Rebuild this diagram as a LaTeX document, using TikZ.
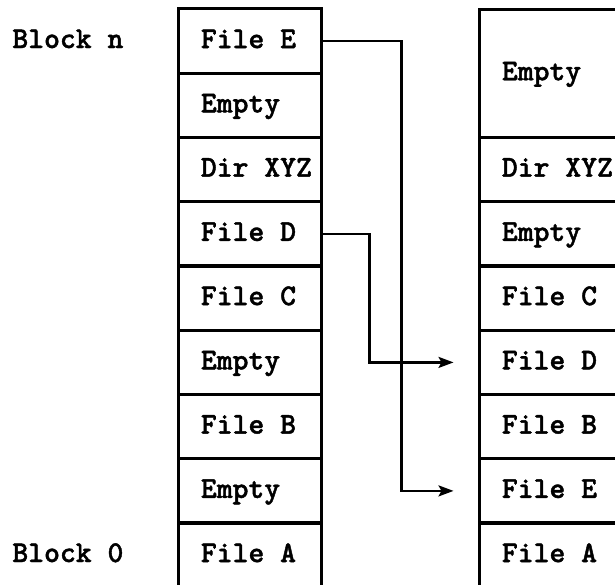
\documentclass[tikz,border=0pt]{standalone}
\usepackage{fontspec}
\usetikzlibrary{arrows.meta,calc}
% Heavy typewriter face (Latin Modern Mono Light, bold weight, emboldened a little more)
\newfontfamily\ttbold{lmmonolt10-bold.otf}[FakeBold=1.4]

% Coordinates are given in pixel-like units: 1 unit = 0.5pt, y grows downward.
\tikzset{
  cell/.style={draw, line width=1.5pt, minimum width=71.5pt, inner sep=0pt},
  row/.style={cell, minimum height=32.125pt},
  tallrow/.style={cell, minimum height=64.25pt},
  txt/.style={anchor=base west, inner sep=0pt, xshift=12pt, yshift=-3.5pt,
              font=\fontsize{15.1}{17}\selectfont\ttbold},
  blocklbl/.style={anchor=base west, inner sep=0pt,
              font=\fontsize{15.1}{17}\selectfont\ttbold},
  conn/.style={line width=1.1pt, -{Stealth[length=7.5pt,width=5.5pt,inset=1.5pt]}}
}

\begin{document}
\begin{tikzpicture}[x=0.5pt, y=-0.5pt]
  \useasboundingbox (0,0) rectangle (615,584);
  \clip (0,0) rectangle (615,584);

  % Left column: blocks n (top) down to 0 (bottom); the bottom cell runs off the page
  \foreach \name/\cy/\lbl in {L8/41.1/File E, L7/105.4/Empty, L6/169.6/Dir XYZ,
      L5/233.9/File D, L4/298.1/File C, L3/362.4/Empty, L2/426.6/File B,
      L1/490.9/Empty, L0/555.1/File A} {
    \node[row] (\name) at (249.5,\cy) {};
    \node[txt] at (\name.west) {\lbl};
  }

  % Right column after compaction; the column runs off the right edge
  \node[tallrow] (R7) at (550.5,73.25) {};
  \node[txt] at (R7.west) {Empty};
  \foreach \name/\cy/\lbl in {R6/169.6/Dir XYZ, R5/233.9/Empty, R4/298.1/File C,
      R3/362.4/File D, R2/426.6/File B, R1/490.9/File E, R0/555.1/File A} {
    \node[row] (\name) at (550.5,\cy) {};
    \node[txt] at (\name.west) {\lbl};
  }

  % Block labels
  \node[blocklbl] (bn) at (12,48) {Block n};
  \node[blocklbl] (b0) at (12,562) {Block 0};

  % Moves of File E and File D
  \draw[conn] (L8.east) -- ++(79,0) |- ([xshift=-12pt]R1.west);
  \draw[conn] (L5.east) -- ++(47,0) |- ([xshift=-12pt]R3.west);
\end{tikzpicture}
\end{document}
